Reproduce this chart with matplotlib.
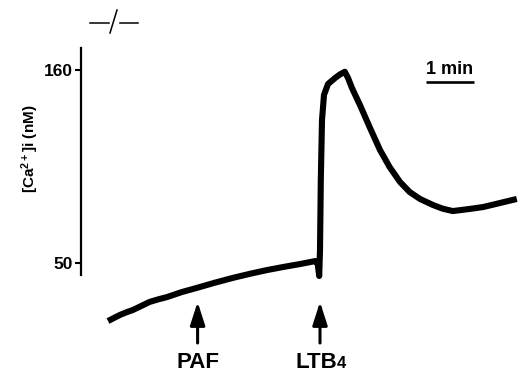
import matplotlib
matplotlib.use('Agg')
import matplotlib.pyplot as plt
from matplotlib.lines import Line2D

plt.rcParams['font.family'] = ['Liberation Sans', 'DejaVu Sans']
plt.rcParams['mathtext.fontset'] = 'custom'
plt.rcParams['mathtext.rm'] = 'Liberation Sans:bold'
plt.rcParams['mathtext.default'] = 'regular'

# ----- trace (time in s, [Ca2+]i in nM) -----
time_s = [0, 8, 15, 23, 31, 42, 52, 63, 74, 92, 111, 133, 156, 178, 199, 220, 240, 259, 262,
          264, 265, 266, 267.5, 270, 275, 284, 290, 296,
          300, 305, 315, 327, 340, 352, 365, 377, 390, 406, 418, 431, 452, 469, 490, 511]
ca_nM = [16.9, 18.8, 20.4, 21.9, 23.2, 25.6, 27.8, 29.3, 30.6, 33.4, 35.8, 38.7, 41.5, 43.9, 46.0, 47.8, 49.4, 51.1, 50.0,
         42.6, 57.4, 97.0, 131.5, 145.8, 152.0, 155.5, 157.5, 159.0,
         155.5, 149.7, 140.0, 127.5, 114.4, 104.7, 96.2, 90.5, 86.5, 83.1, 81.0, 79.6, 80.8, 81.9, 84.2, 86.5]

# stimulus additions
stim_names = ['PAF', 'LTB']
stim_sub = ['', '4']
stim_times = [112, 265]

yticks = [50, 160]

# pixel geometry of the original figure (519 x 373)
W, H = 519, 373
fig = plt.figure(figsize=(W / 100, H / 100), dpi=100)
ax = fig.add_axes([81 / W, 0, 1 - 81 / W, 1])

# data limits chosen so 48 px = 1 min and 193 px = 110 nM
ax.set_xlim(-33.75, 513.75)
ax.set_ylim(-12.7, 199.9)

ax.plot(time_s, ca_nM, color='black', lw=4.4, solid_capstyle='butt', solid_joinstyle='round')

for s in ['top', 'right', 'bottom']:
    ax.spines[s].set_visible(False)
ax.spines['left'].set_linewidth(1.6)
ax.spines['left'].set_bounds(43.2, 172.5)
ax.set_xticks([])
ax.set_yticks(yticks)
ax.tick_params(axis='y', direction='out', length=4.5, width=1.5, pad=1.5, labelsize=12.5)
for lab in ax.get_yticklabels():
    lab.set_fontweight('bold')

# y label
fig.text(30 / W, 1 - 149 / H, '[Ca$^{2+}$]i (nM)', rotation=90, ha='center', va='center',
         fontsize=11, fontweight='bold')

# arrows + labels for stimuli
for name, sub, t in zip(stim_names, stim_sub, stim_times):
    ax.annotate('', xy=(t, 27.8), xytext=(t, 4.4),
                arrowprops=dict(arrowstyle='-|>,head_width=0.45,head_length=1.4',
                                lw=2.2, color='black', shrinkA=0, shrinkB=0))
    if sub:
        ax.text(t + 21, -9.6, name, ha='right', va='baseline', fontsize=16, fontweight='bold')
        ax.text(t + 21, -9.6, sub, ha='left', va='baseline', fontsize=12, fontweight='bold')
    else:
        ax.text(t, -9.6, name, ha='center', va='baseline', fontsize=16, fontweight='bold')

# 1 min scale bar
ax.plot([397.5, 457.5], [153.2, 153.2], color='black', lw=1.9, solid_capstyle='butt')
ax.text(427.5, 157.5, '1 min', ha='center', va='baseline', fontsize=13, fontweight='bold')

# axis break marker  -/-
def px(x, y):
    return x / W, 1 - y / H

for (x0, y0), (x1, y1) in [((90, 23), (109, 23)), ((110, 33), (117, 10)), ((120, 23), (138, 23))]:
    a, b = px(x0, y0)
    c, d = px(x1, y1)
    fig.add_artist(Line2D([a, c], [b, d], color='black', lw=1.1, transform=fig.transFigure))

fig.savefig('out.png', dpi=100)
